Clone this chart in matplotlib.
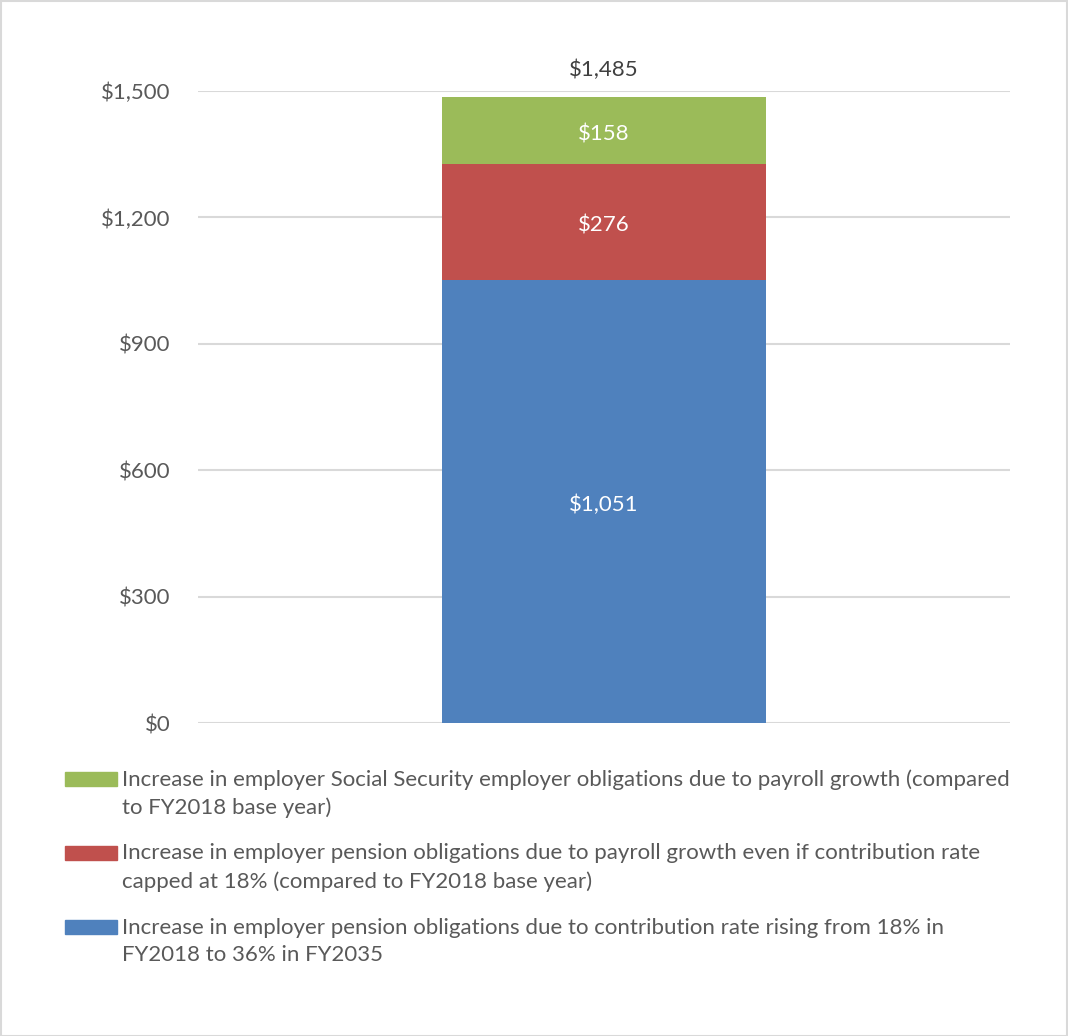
import matplotlib.pyplot as plt
from matplotlib.patches import Rectangle

plt.rcParams['font.family'] = ['Lato', 'DejaVu Sans']

categories = ['']
blue_vals = [1051]
red_vals = [276]
green_vals = [158]
totals = [1485]

series_labels = [
    'Increase in employer Social Security employer obligations due to payroll growth (compared\nto FY2018 base year)',
    'Increase in employer pension obligations due to payroll growth even if contribution rate\ncapped at 18% (compared to FY2018 base year)',
    'Increase in employer pension obligations due to contribution rate rising from 18% in\nFY2018 to 36% in FY2035',
]
series_colors = ['#9BBB59', '#C0504D', '#4F81BD']

yticks = [0, 300, 600, 900, 1200, 1500]
ytick_labels = ['$0', '$300', '$600', '$900', '$1,200', '$1,500']

W, H = 1068, 1036
fig = plt.figure(figsize=(W / 100, H / 100), dpi=100)
ax = fig.add_axes([198 / W, 1 - 723 / H, (1010 - 198) / W, (723 - 91) / H])

x = [0]
bw = 0.4
ax.bar(x, blue_vals, width=bw, color='#4F81BD', zorder=3)
ax.bar(x, red_vals, width=bw, bottom=blue_vals, color='#C0504D', zorder=3)
bottom2 = [b + r for b, r in zip(blue_vals, red_vals)]
ax.bar(x, green_vals, width=bw, bottom=bottom2, color='#9BBB59', zorder=3)

fs = 16


def seg_label(xi, y, val):
    # white value label in the middle of a segment, nudged down a little
    ax.annotate('$' + format(val, ','), (xi, y), xytext=(0, -2.5), textcoords='offset points',
                ha='center', va='center', color='white', fontsize=fs)


for xi, b, r, g, t in zip(x, blue_vals, red_vals, green_vals, totals):
    seg_label(xi, b / 2, b)
    seg_label(xi, b + r / 2, r)
    seg_label(xi, b + r + g / 2, g)
    ax.annotate('$' + format(t, ','), (xi, b + r + g), xytext=(0, 20), textcoords='offset points',
                ha='center', va='center', color='#404040', fontsize=fs, annotation_clip=False)

ax.set_xlim(-0.5, 0.5)
ax.set_ylim(0, 1500)
ax.set_yticks(yticks)
ax.set_yticklabels(ytick_labels, fontsize=fs, color='#595959')
ax.set_xticks([])
ax.tick_params(axis='y', length=0, pad=20)
ax.grid(axis='y', color='#D9D9D9', linewidth=1.5, zorder=0)
for s in ax.spines.values():
    s.set_visible(False)

# legend drawn by hand
for i, (lab, col) in enumerate(zip(series_labels, series_colors)):
    yc = 779 + i * 74
    fig.patches.append(Rectangle((65 / W, 1 - (yc + 7) / H), 52 / W, 14 / H,
                                 transform=fig.transFigure, color=col))
    fig.text(122 / W, 1 - (yc + 14.5) / H, lab, ha='left', va='center', fontsize=fs,
             color='#595959', linespacing=1.45)

fig.patches.append(Rectangle((0.5 / W, 0.5 / H), (W - 1.5) / W, (H - 1.5) / H, transform=fig.transFigure,
                             fill=False, edgecolor='#D9D9D9', linewidth=1.5))

fig.savefig('out.png', dpi=100, facecolor='white')
